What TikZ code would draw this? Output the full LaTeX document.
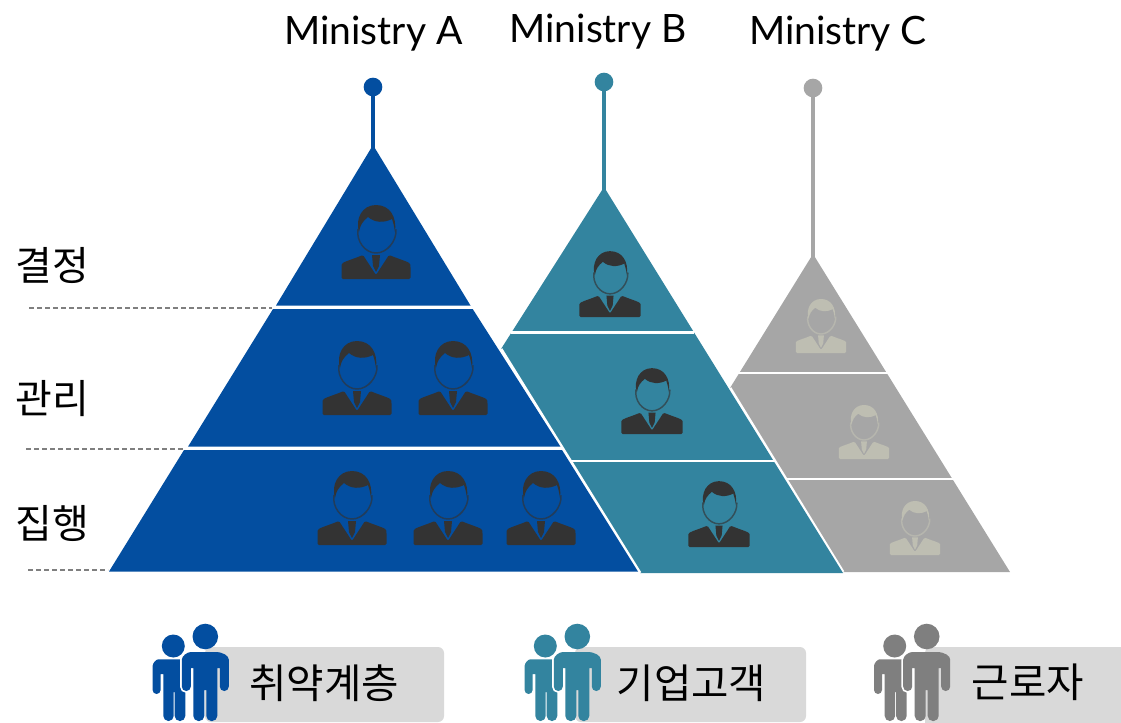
\documentclass[tikz,border=0pt]{standalone}
\usepackage{fontspec}
\setmainfont{Lato}
\newfontfamily\kr{Noto Sans CJK KR}
\definecolor{cA}{HTML}{034EA0}
\definecolor{cB}{HTML}{33849F}
\definecolor{cC}{HTML}{A6A6A6}
\definecolor{iconDark}{HTML}{333333}
\definecolor{iconPale}{HTML}{BEBEB2}
\definecolor{boxGray}{HTML}{D9D9D9}
\definecolor{groupGray}{HTML}{7F7F7F}
\tikzset{
  ministry/.style={font=\fontsize{29.3}{30}\selectfont,inner sep=0pt,anchor=center},
  level/.style={font=\kr\fontsize{30}{32}\selectfont,inner sep=0pt,anchor=center},
  tag/.style={font=\kr\fontsize{30.5}{32}\selectfont,inner sep=0pt,anchor=center},
  bandline/.style={white,line width=2.1pt},
  guide/.style={draw=groupGray,line width=1.5pt,dash pattern=on 4pt off 2pt},
  stem/.style={line width=3.6pt},
  dot/.style={circle,inner sep=0pt,minimum size=14pt},
  tagbox/.style={fill=boxGray,rounded corners=4.5pt},
  pics/person/.style n args={3}{code={
    % origin: bottom centre of the icon; drawn in 69x74 units
    \begin{scope}[scale=#1]
      \fill[#2,rounded corners=1pt] (-34.5,0) -- (-34.5,-13) .. controls (-34,-17) and (-28,-18) .. (-13,-24)
        -- (0,-4) -- (13,-24) .. controls (28,-18) and (34,-17) .. (34.5,-13) -- (34.5,0) -- cycle;
      \fill[#2] (-4,-24) -- (4,-24) -- (3,-13) -- (0,-7) -- (-3,-13) -- cycle;
      \draw[#2!65!#3,line width=1.1pt] (-18,-50) .. controls (-20,-38) and (-11,-26) .. (0,-26)
        .. controls (11,-26) and (21,-38) .. (20,-50);
      \fill[#2] (-17,-47) .. controls (-21,-60) and (-14,-74) .. (0,-74)
        .. controls (14,-74) and (21,-62) .. (19,-47) .. controls (18,-54) and (17,-57) .. (16,-60)
        .. controls (8,-56) and (-1,-56) .. (-8,-62) .. controls (-13,-58) and (-16,-54) .. (-17,-47) -- cycle;
    \end{scope}
  }},
  pics/people/.style={code={
    % origin: top reference of the large figure
    \fill[#1] (-32,-4) circle[radius=11.5];
    \fill[#1] [rounded corners=3pt] (-52.7,44) -- (-52.7,20) .. controls (-52.7,13) and (-49,9.3) .. (-43,9.3) [sharp corners] -- (-20,9.3) [rounded corners=3.8pt] -- (-20,71) -- (-30.6,71) [sharp corners] -- (-30.6,42) -- (-31.6,42) [rounded corners=3.8pt] -- (-31.6,71) -- (-42,71) [sharp corners] -- (-42,24) -- (-44.7,24) [rounded corners=3pt] -- (-44.7,44) -- cycle;
    \fill[#1] (0,-13.5) circle[radius=12.8];
    \begin{scope}
      \clip (-60,-5) rectangle (-2,90);
      \draw[white,line width=2.6pt,rounded corners=3.3pt] (-23.5,41) -- (-23.5,14) .. controls (-23.5,6) and (-18,2) .. (-10,2) -- (-2,2) -- (-2,80) -- (-12,72) -- (-12,18) -- (-14.5,18) -- (-14.5,41) -- cycle;
    \end{scope}
    \fill[#1] [rounded corners=3.3pt] (-23.5,41) -- (-23.5,14) .. controls (-23.5,6) and (-18,2) .. (-10,2) [sharp corners] -- (10,2) [rounded corners=3.3pt] .. controls (18,2) and (23.5,6) .. (23.5,14) -- (23.5,41) -- (14.5,41) [sharp corners] -- (14.5,18) -- (12,18) [rounded corners=3.8pt] -- (12,71) -- (1,71) [sharp corners] -- (1,40) -- (-1,40) [rounded corners=3.8pt] -- (-1,71) -- (-12,71) [sharp corners] -- (-12,18) -- (-14.5,18) [rounded corners=3.3pt] -- (-14.5,41) -- cycle;
  }}
}
\begin{document}
\begin{tikzpicture}[x=0.75pt,y=-0.75pt]
\useasboundingbox (0,0) rectangle (1121,722);
% pyramid corners
\coordinate (aTop) at (373,145);
\coordinate (bTop) at (604,187);
\coordinate (bR) at (843,573);
\coordinate (bB) at (640,573);
\coordinate (bJ) at (501,349);
\coordinate (cTop) at (813,254);
\coordinate (cR) at (1010,572);
\coordinate (cB) at (843,572);
\coordinate (cJ) at (730,388);
% pyramid C
\fill[cC] (cTop) -- (cR) -- (cB) -- (cJ) -- cycle;
\draw[bandline] (736,373) -- (890,373);
\draw[bandline] (783,479) -- (955,479);
\draw[white,line width=2.2pt] (cJ) -- (cB);
% pyramid B
\fill[cB] (bTop) -- (bR) -- (bB) -- (bJ) -- cycle;
\draw[bandline] (511,332.5) -- (694,332.5);
\draw[bandline] (569,461) -- (775,461);
\draw[white,line width=2.2pt] (bJ) -- (bB);
% pyramid A, three bands
\fill[cA] (aTop) -- (470.5,305.5) -- (276,305.5) -- cycle;
\fill[cA] (273,309) -- (472.7,309) -- (560.5,446.7) -- (188,446.7) -- cycle;
\fill[cA] (184,450) -- (562,450) -- (638,571.5) -- (109,571.5) -- cycle;
% stems
\node[dot,fill=cA] (dotA) at (373,87) {};
\node[dot,fill=cB] (dotB) at (604,82) {};
\node[dot,fill=cC] (dotC) at (813,88) {};
\draw[stem,cA] (dotA.center) -- ([yshift=-3pt]aTop);
\draw[stem,cB] (dotB.center) -- ([yshift=-3pt]bTop);
\draw[stem,cC] (dotC.center) -- ([yshift=-3pt]cTop);
% titles
\node[ministry] (mA) at (373.5,34) {Ministry A};
\node[ministry] (mB) at (598,31.5) {Ministry B};
\node[ministry] (mC) at (838,34) {Ministry C};
% level labels
\node[level] (l1) at (52,265.5) {결정};
\node[level] (l2) at (52,398.5) {관리};
\node[level] (l3) at (52,523.5) {집행};
\coordinate (g1a) at (29,308); \coordinate (g1b) at (272,308);
\coordinate (g2a) at (26,449); \coordinate (g2b) at (185,449);
\coordinate (g3a) at (28,570); \coordinate (g3b) at (108,570);
\draw[guide] (g1a) -- (g1b);
\draw[guide] (g2a) -- (g2b);
\draw[guide] (g3a) -- (g3b);
% icons
\pic at (376,279) {person={1}{iconDark}{cA}};
\pic at (357,415) {person={1}{iconDark}{cA}};
\pic at (453,415) {person={1}{iconDark}{cA}};
\pic at (352,545) {person={1}{iconDark}{cA}};
\pic at (448,545) {person={1}{iconDark}{cA}};
\pic at (541,545) {person={1}{iconDark}{cA}};
\pic at (610,317) {person={0.89}{iconDark}{cB}};
\pic at (652,434) {person={0.89}{iconDark}{cB}};
\pic at (719,547) {person={0.89}{iconDark}{cB}};
\pic at (821,353) {person={0.73}{iconPale}{cC}};
\pic at (864,459) {person={0.73}{iconPale}{cC}};
\pic at (915,555) {person={0.73}{iconPale}{cC}};
% legend boxes
\fill[tagbox] (205,647) rectangle (444,722);
\fill[tagbox] (575,647) rectangle (806,722);
\fill[tagbox] (925,647) rectangle (1135,735);
\begin{scope}
\clip (0,0) rectangle (1121,722);
\pic at (205.3,650) {people=cA};
\pic at (577.3,650) {people=cB};
\pic at (926.7,650) {people=groupGray};
\end{scope}
\node[tag] (t1) at (324,683.5) {취약계층};
\node[tag] (t2) at (691.5,683.5) {기업고객};
\node[tag] (t3) at (1028,682) {근로자};
\end{tikzpicture}
\end{document}
